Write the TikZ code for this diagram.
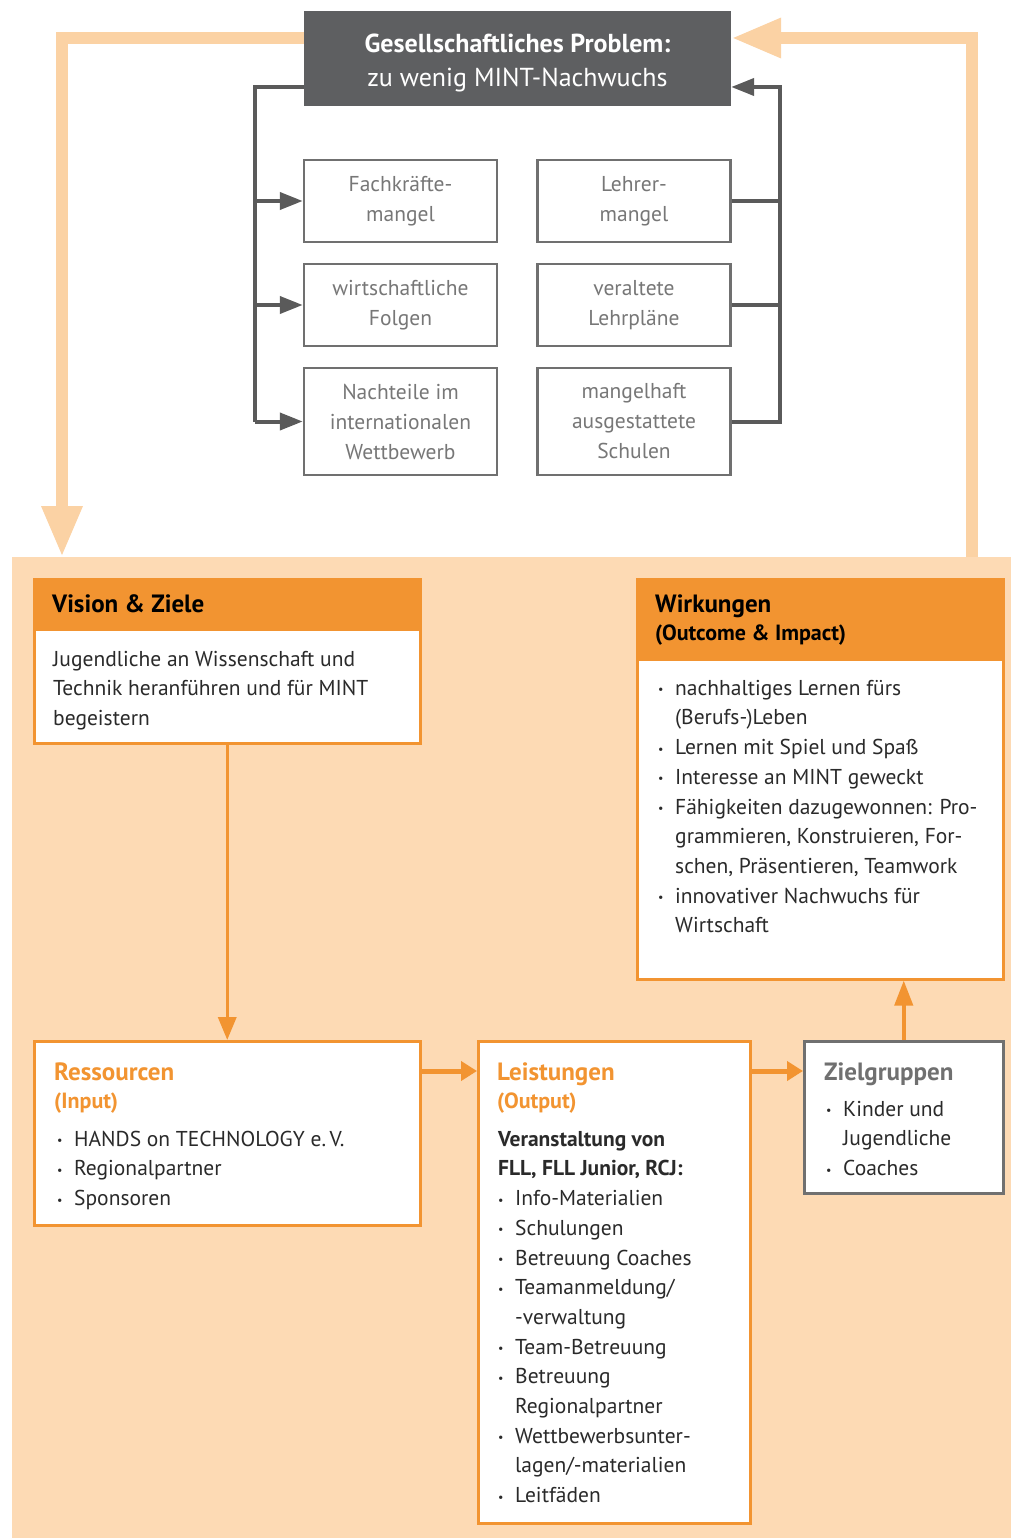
\documentclass[tikz,border=0pt]{standalone}
\usepackage{fontspec}
\setmainfont{PT Sans}
\usetikzlibrary{arrows.meta,positioning}
\definecolor{peachbg}{HTML}{FDDAB4}
\definecolor{peacharrow}{HTML}{FBD2A4}
\definecolor{mintorange}{HTML}{F29431}
\definecolor{darkbox}{HTML}{5E5F61}
\definecolor{linegray}{HTML}{5A5A5A}
\definecolor{boxgray}{HTML}{707070}
\definecolor{softgray}{HTML}{777777}
\definecolor{bodytext}{HTML}{2A2A2A}

\newcommand{\topstrut}{\rule{0pt}{20pt}}
\newcommand{\bul}{\makebox[17pt][l]{\raisebox{1.5pt}{\fontsize{12}{12}\selectfont\textbullet}}}
\newcommand{\ind}{\hspace*{17pt}}

\tikzset{
  loopline/.style={peacharrow, line width=12pt, line join=miter},
  grayline/.style={linegray, line width=4pt, line join=miter},
  orangeline/.style={mintorange, line width=4pt},
  smallbox/.style={draw=boxgray, line width=2.5pt, fill=white, text=softgray, align=center,
    minimum width=193pt, inner sep=0pt, font=\fontsize{21.5}{30}\selectfont},
  headbox/.style={draw=mintorange, fill=mintorange, line width=2.5pt, anchor=north west, inner sep=0pt},
  bodybox/.style={draw=mintorange, fill=white, line width=2.5pt, anchor=north west, inner sep=0pt},
  graybox/.style={draw=boxgray, fill=white, line width=2.5pt, anchor=north west, inner sep=0pt},
  titletext/.style={anchor=base west, inner sep=0pt, font=\bfseries\fontsize{25}{28}\selectfont},
  subtext/.style={anchor=base west, inner sep=0pt, font=\bfseries\fontsize{22}{24}\selectfont},
  bodytxt/.style={anchor=north west, inner sep=0pt, align=left, text=bodytext,
    font=\fontsize{21.5}{29.7}\selectfont}
}

\begin{document}
\begin{tikzpicture}[x=1pt,y=-1pt]
  \useasboundingbox (0,0) rectangle (1011,1538);

  \node[fill=peachbg, anchor=north west, minimum width=999pt, minimum height=981pt, inner sep=0pt] (model) at (12,557) {};

  \node[fill=darkbox, text=white, align=center, minimum width=427pt, minimum height=95pt, inner sep=0pt,
    font=\fontsize{26}{34}\selectfont] (problem) at (517.5,58.5)
    {\rule{0pt}{27pt}\textbf{Gesellschaftliches Problem:}\\zu wenig MINT-Nachwuchs};

  \coordinate (lcorner) at (62,38);
  \coordinate (rcorner) at (972,38);
  \draw[loopline, -{Triangle[length=51pt,width=38pt]}] (problem.west |- lcorner) -- (lcorner) -- (lcorner |- model.north);
  \draw[loopline, -{Triangle[length=50pt,width=37pt]}] (rcorner |- model.north) -- (rcorner) -- (problem.east |- rcorner);

  \node[smallbox, minimum height=82pt] (fachkraefte) at (400.5,201) {Fachkräfte-\\mangel};
  \node[smallbox, minimum height=82pt] (folgen) at (400.5,305) {wirtschaftliche\\Folgen};
  \node[smallbox, minimum height=107pt] (wettbewerb) at (400.5,421.5) {Nachteile im\\internationalen\\Wettbewerb};
  \node[smallbox, minimum height=82pt] (lehrer) at (634,201) {Lehrer-\\mangel};
  \node[smallbox, minimum height=82pt] (lehrplaene) at (634,305) {veraltete\\Lehrpläne};
  \node[smallbox, minimum height=107pt] (schulen) at (634,421.5) {mangelhaft\\ausgestattete\\Schulen};

  \coordinate (lbus) at (255,87);
  \coordinate (rbus) at (780,87);
  \draw[grayline] (problem.west |- lbus) -- (lbus) -- (lbus |- wettbewerb.west);
  \foreach \folge in {fachkraefte,folgen,wettbewerb}
    \draw[grayline, -{Triangle[length=23pt,width=17pt]}] (lbus |- \folge.west) -- (\folge.west);
  \foreach \ursache in {lehrer,lehrplaene}
    \draw[grayline] (\ursache.east) -- (rbus |- \ursache.east);
  \draw[grayline, -{Triangle[length=23pt,width=17pt]}] (schulen.east) -- (rbus |- schulen.east) -- (rbus) -- (problem.east |- rbus);

  \node[headbox, minimum width=386pt, minimum height=50pt] (vishead) at (33,578) {};
  \node[bodybox, minimum width=386pt, minimum height=114pt] (visbody) at (33,628) {};
  \node[headbox, minimum width=366pt, minimum height=80pt] (wirkhead) at (636,578) {};
  \node[bodybox, minimum width=366pt, minimum height=320pt] (wirkbody) at (636,658) {};
  \node[bodybox, minimum width=386pt, minimum height=184pt] (ressourcen) at (33,1040) {};
  \node[bodybox, minimum width=272pt, minimum height=482pt] (leistungen) at (477,1040) {};
  \node[graybox, minimum width=199pt, minimum height=152pt] (zielgruppen) at (803,1040) {};

  \node[titletext] (vistitle) at (52,612) {Vision \& Ziele};
  \node[bodytxt] (vistext) at (53,646) {\topstrut Jugendliche an Wissenschaft und\\Technik heranführen und für MINT\\begeistern};

  \node[titletext] (wirktitle) at (655,612) {Wirkungen};
  \node[subtext] (wirksub) at (655,640) {(Outcome \& Impact)};
  \node[bodytxt] (wirktext) at (658,675) {\topstrut\bul nachhaltiges Lernen fürs\\
    \ind(Berufs-)Leben\\
    \bul Lernen mit Spiel und Spaß\\
    \bul Interesse an MINT geweckt\\
    \bul Fähigkeiten dazugewonnen: Pro-\\
    \ind grammieren, Konstruieren, For-\\
    \ind schen, Präsentieren, Teamwork\\
    \bul innovativer Nachwuchs für\\
    \ind Wirtschaft};

  \node[titletext, text=mintorange] (restitle) at (54,1080) {Ressourcen};
  \node[subtext, text=mintorange] (ressub) at (54,1108) {(Input)};
  \node[bodytxt] (restext) at (57,1126) {\topstrut\bul HANDS on TECHNOLOGY e.\,V.\\
    \bul Regionalpartner\\
    \bul Sponsoren};

  \node[titletext, text=mintorange] (leistitle) at (497,1080) {Leistungen};
  \node[subtext, text=mintorange] (leissub) at (497,1108) {(Output)};
  \node[bodytxt] (leistext) at (498,1126) {\topstrut\textbf{Veranstaltung von}\\
    \textbf{FLL, FLL Junior, RCJ:}\\
    \bul Info-Materialien\\
    \bul Schulungen\\
    \bul Betreuung Coaches\\
    \bul Teamanmeldung/\\
    \ind -verwaltung\\
    \bul Team-Betreuung\\
    \bul Betreuung\\
    \ind Regionalpartner\\
    \bul Wettbewerbsunter-\\
    \ind lagen/-materialien\\
    \bul Leitfäden};

  \node[titletext, text=boxgray] (zieltitle) at (824,1080) {Zielgruppen};
  \node[bodytxt] (zieltext) at (826,1096) {\topstrut\bul Kinder und\\
    \ind Jugendliche\\
    \bul Coaches};

  \draw[orangeline, line width=3.5pt, -{Triangle[length=23pt,width=18pt]}] (visbody.south) -- (ressourcen.north);
  \draw[orangeline, line width=5pt, -{Triangle[length=16pt,width=19pt]}] ([yshift=-31pt]ressourcen.north east) -- ([yshift=-31pt]leistungen.north west);
  \draw[orangeline, line width=5pt, -{Triangle[length=16pt,width=19pt]}] ([yshift=-31pt]leistungen.north east) -- ([yshift=-31pt]zielgruppen.north west);
  \draw[orangeline, -{Triangle[length=25pt,width=18pt]}] (zielgruppen.north) -- (zielgruppen.north |- wirkbody.south);
\end{tikzpicture}
\end{document}
